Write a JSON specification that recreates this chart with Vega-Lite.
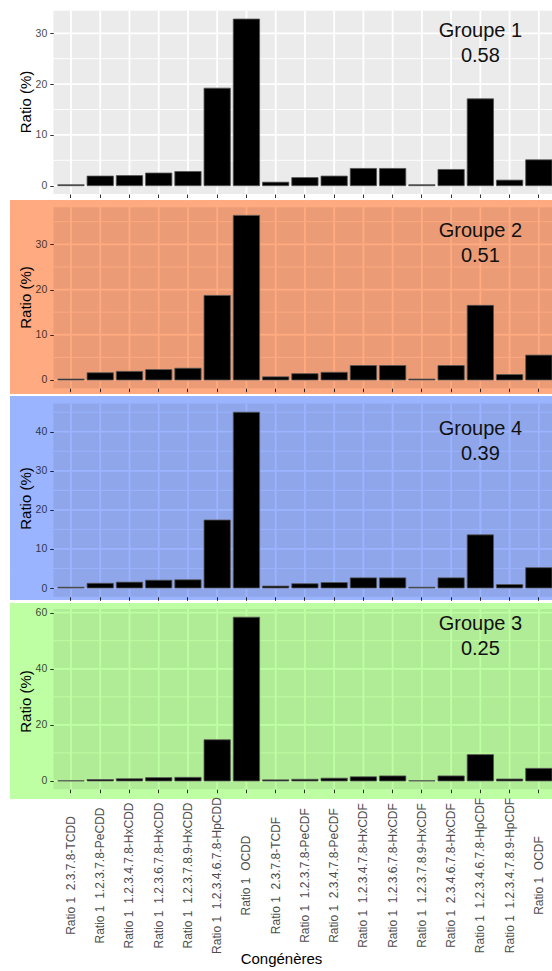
{
  "$schema": "https://vega.github.io/schema/vega-lite/v6.json",
  "background": "white",
  "padding": {"left": 10, "top": 6, "right": 0, "bottom": 0},
  "spacing": 2,
  "config": {
    "font": "Liberation Sans",
    "view": {"stroke": null},
    "axis": {"domain": false, "labelFont": "Liberation Sans", "titleFont": "Liberation Sans", "titleFontWeight": "normal"}
  },
  "datasets": {
    "ratios": [
      {"groupe": "Groupe 1", "congenere": "Ratio 1 2.3.7.8-TCDD", "ratio": 0.2},
      {"groupe": "Groupe 1", "congenere": "Ratio 1 1.2.3.7.8-PeCDD", "ratio": 1.9},
      {"groupe": "Groupe 1", "congenere": "Ratio 1 1.2.3.4.7.8-HxCDD", "ratio": 2.0},
      {"groupe": "Groupe 1", "congenere": "Ratio 1 1.2.3.6.7.8-HxCDD", "ratio": 2.5},
      {"groupe": "Groupe 1", "congenere": "Ratio 1 1.2.3.7.8.9-HxCDD", "ratio": 2.8},
      {"groupe": "Groupe 1", "congenere": "Ratio 1 1.2.3.4.6.7.8-HpCDD", "ratio": 19.2},
      {"groupe": "Groupe 1", "congenere": "Ratio 1 OCDD", "ratio": 32.8},
      {"groupe": "Groupe 1", "congenere": "Ratio 1 2.3.7.8-TCDF", "ratio": 0.7},
      {"groupe": "Groupe 1", "congenere": "Ratio 1 1.2.3.7.8-PeCDF", "ratio": 1.6},
      {"groupe": "Groupe 1", "congenere": "Ratio 1 2.3.4.7.8-PeCDF", "ratio": 1.9},
      {"groupe": "Groupe 1", "congenere": "Ratio 1 1.2.3.4.7.8-HxCDF", "ratio": 3.4},
      {"groupe": "Groupe 1", "congenere": "Ratio 1 1.2.3.6.7.8-HxCDF", "ratio": 3.4},
      {"groupe": "Groupe 1", "congenere": "Ratio 1 1.2.3.7.8.9-HxCDF", "ratio": 0.2},
      {"groupe": "Groupe 1", "congenere": "Ratio 1 2.3.4.6.7.8-HxCDF", "ratio": 3.2},
      {"groupe": "Groupe 1", "congenere": "Ratio 1 1.2.3.4.6.7.8-HpCDF", "ratio": 17.1},
      {"groupe": "Groupe 1", "congenere": "Ratio 1 1.2.3.4.7.8.9-HpCDF", "ratio": 1.1},
      {"groupe": "Groupe 1", "congenere": "Ratio 1 OCDF", "ratio": 5.1},
      {"groupe": "Groupe 2", "congenere": "Ratio 1 2.3.7.8-TCDD", "ratio": 0.2},
      {"groupe": "Groupe 2", "congenere": "Ratio 1 1.2.3.7.8-PeCDD", "ratio": 1.6},
      {"groupe": "Groupe 2", "congenere": "Ratio 1 1.2.3.4.7.8-HxCDD", "ratio": 1.9},
      {"groupe": "Groupe 2", "congenere": "Ratio 1 1.2.3.6.7.8-HxCDD", "ratio": 2.3},
      {"groupe": "Groupe 2", "congenere": "Ratio 1 1.2.3.7.8.9-HxCDD", "ratio": 2.6},
      {"groupe": "Groupe 2", "congenere": "Ratio 1 1.2.3.4.6.7.8-HpCDD", "ratio": 18.7},
      {"groupe": "Groupe 2", "congenere": "Ratio 1 OCDD", "ratio": 36.4},
      {"groupe": "Groupe 2", "congenere": "Ratio 1 2.3.7.8-TCDF", "ratio": 0.7},
      {"groupe": "Groupe 2", "congenere": "Ratio 1 1.2.3.7.8-PeCDF", "ratio": 1.4},
      {"groupe": "Groupe 2", "congenere": "Ratio 1 2.3.4.7.8-PeCDF", "ratio": 1.7},
      {"groupe": "Groupe 2", "congenere": "Ratio 1 1.2.3.4.7.8-HxCDF", "ratio": 3.2},
      {"groupe": "Groupe 2", "congenere": "Ratio 1 1.2.3.6.7.8-HxCDF", "ratio": 3.2},
      {"groupe": "Groupe 2", "congenere": "Ratio 1 1.2.3.7.8.9-HxCDF", "ratio": 0.2},
      {"groupe": "Groupe 2", "congenere": "Ratio 1 2.3.4.6.7.8-HxCDF", "ratio": 3.2},
      {"groupe": "Groupe 2", "congenere": "Ratio 1 1.2.3.4.6.7.8-HpCDF", "ratio": 16.5},
      {"groupe": "Groupe 2", "congenere": "Ratio 1 1.2.3.4.7.8.9-HpCDF", "ratio": 1.2},
      {"groupe": "Groupe 2", "congenere": "Ratio 1 OCDF", "ratio": 5.5},
      {"groupe": "Groupe 4", "congenere": "Ratio 1 2.3.7.8-TCDD", "ratio": 0.2},
      {"groupe": "Groupe 4", "congenere": "Ratio 1 1.2.3.7.8-PeCDD", "ratio": 1.2},
      {"groupe": "Groupe 4", "congenere": "Ratio 1 1.2.3.4.7.8-HxCDD", "ratio": 1.5},
      {"groupe": "Groupe 4", "congenere": "Ratio 1 1.2.3.6.7.8-HxCDD", "ratio": 2.0},
      {"groupe": "Groupe 4", "congenere": "Ratio 1 1.2.3.7.8.9-HxCDD", "ratio": 2.1},
      {"groupe": "Groupe 4", "congenere": "Ratio 1 1.2.3.4.6.7.8-HpCDD", "ratio": 17.4},
      {"groupe": "Groupe 4", "congenere": "Ratio 1 OCDD", "ratio": 45.0},
      {"groupe": "Groupe 4", "congenere": "Ratio 1 2.3.7.8-TCDF", "ratio": 0.5},
      {"groupe": "Groupe 4", "congenere": "Ratio 1 1.2.3.7.8-PeCDF", "ratio": 1.1},
      {"groupe": "Groupe 4", "congenere": "Ratio 1 2.3.4.7.8-PeCDF", "ratio": 1.4},
      {"groupe": "Groupe 4", "congenere": "Ratio 1 1.2.3.4.7.8-HxCDF", "ratio": 2.6},
      {"groupe": "Groupe 4", "congenere": "Ratio 1 1.2.3.6.7.8-HxCDF", "ratio": 2.6},
      {"groupe": "Groupe 4", "congenere": "Ratio 1 1.2.3.7.8.9-HxCDF", "ratio": 0.2},
      {"groupe": "Groupe 4", "congenere": "Ratio 1 2.3.4.6.7.8-HxCDF", "ratio": 2.6},
      {"groupe": "Groupe 4", "congenere": "Ratio 1 1.2.3.4.6.7.8-HpCDF", "ratio": 13.6},
      {"groupe": "Groupe 4", "congenere": "Ratio 1 1.2.3.4.7.8.9-HpCDF", "ratio": 0.9},
      {"groupe": "Groupe 4", "congenere": "Ratio 1 OCDF", "ratio": 5.2},
      {"groupe": "Groupe 3", "congenere": "Ratio 1 2.3.7.8-TCDD", "ratio": 0.1},
      {"groupe": "Groupe 3", "congenere": "Ratio 1 1.2.3.7.8-PeCDD", "ratio": 0.5},
      {"groupe": "Groupe 3", "congenere": "Ratio 1 1.2.3.4.7.8-HxCDD", "ratio": 0.8},
      {"groupe": "Groupe 3", "congenere": "Ratio 1 1.2.3.6.7.8-HxCDD", "ratio": 1.2},
      {"groupe": "Groupe 3", "congenere": "Ratio 1 1.2.3.7.8.9-HxCDD", "ratio": 1.3},
      {"groupe": "Groupe 3", "congenere": "Ratio 1 1.2.3.4.6.7.8-HpCDD", "ratio": 14.7},
      {"groupe": "Groupe 3", "congenere": "Ratio 1 OCDD", "ratio": 58.4},
      {"groupe": "Groupe 3", "congenere": "Ratio 1 2.3.7.8-TCDF", "ratio": 0.4},
      {"groupe": "Groupe 3", "congenere": "Ratio 1 1.2.3.7.8-PeCDF", "ratio": 0.6},
      {"groupe": "Groupe 3", "congenere": "Ratio 1 2.3.4.7.8-PeCDF", "ratio": 1.0},
      {"groupe": "Groupe 3", "congenere": "Ratio 1 1.2.3.4.7.8-HxCDF", "ratio": 1.5},
      {"groupe": "Groupe 3", "congenere": "Ratio 1 1.2.3.6.7.8-HxCDF", "ratio": 1.8},
      {"groupe": "Groupe 3", "congenere": "Ratio 1 1.2.3.7.8.9-HxCDF", "ratio": 0.1},
      {"groupe": "Groupe 3", "congenere": "Ratio 1 2.3.4.6.7.8-HxCDF", "ratio": 1.8},
      {"groupe": "Groupe 3", "congenere": "Ratio 1 1.2.3.4.6.7.8-HpCDF", "ratio": 9.4},
      {"groupe": "Groupe 3", "congenere": "Ratio 1 1.2.3.4.7.8.9-HpCDF", "ratio": 0.7},
      {"groupe": "Groupe 3", "congenere": "Ratio 1 OCDF", "ratio": 4.5}
    ]
  },
  "vconcat": [
    {
      "width": 542,
      "height": 191,
      "view": {"stroke": null},
      "layer": [
        {
          "data": {"values": [{}]},
          "mark": {"type": "rect", "color": "#EBEBEB", "clip": true},
          "encoding": {
            "x": {
              "datum": "Ratio 1 2.3.7.8-TCDD", "type": "nominal", "bandPosition": -0.1667,
              "scale": {"domain": ["Ratio 1 2.3.7.8-TCDD", "Ratio 1 1.2.3.7.8-PeCDD", "Ratio 1 1.2.3.4.7.8-HxCDD", "Ratio 1 1.2.3.6.7.8-HxCDD", "Ratio 1 1.2.3.7.8.9-HxCDD", "Ratio 1 1.2.3.4.6.7.8-HpCDD", "Ratio 1 OCDD", "Ratio 1 2.3.7.8-TCDF", "Ratio 1 1.2.3.7.8-PeCDF", "Ratio 1 2.3.4.7.8-PeCDF", "Ratio 1 1.2.3.4.7.8-HxCDF", "Ratio 1 1.2.3.6.7.8-HxCDF", "Ratio 1 1.2.3.7.8.9-HxCDF", "Ratio 1 2.3.4.6.7.8-HxCDF", "Ratio 1 1.2.3.4.6.7.8-HpCDF", "Ratio 1 1.2.3.4.7.8.9-HpCDF", "Ratio 1 OCDF"], "paddingInner": 0.1, "paddingOuter": 0.818, "align": 1},
              "axis": {"labels": false, "title": null, "ticks": true, "tickSize": 3.5, "tickColor": "#333333", "grid": false, "domain": false, "offset": -3, "zindex": 1}
            },
            "x2": {"datum": "Ratio 1 OCDF", "bandPosition": 1.1667},
            "y": {
              "datum": -1.64, "type": "quantitative",
              "scale": {"domain": [-2.22, 35.37], "nice": false, "zero": false},
              "axis": {"values": [0, 10, 20, 30], "title": "Ratio (%)", "offset": -43.3, "grid": false, "domain": false, "tickSize": 3.5, "tickColor": "#333333", "labelColor": "#4D4D4D", "labelFontSize": 10.5, "labelPadding": 3, "titleFontSize": 15, "titleColor": "#000000", "titlePadding": 2, "zindex": 1}
            },
            "y2": {"datum": 34.44}
          }
        },
        {
          "data": {"values": [{"v": 5}, {"v": 15}, {"v": 25}]},
          "mark": {"type": "rule", "color": "#FFFFFF", "strokeWidth": 0.9, "clip": true},
          "encoding": {"y": {"field": "v", "type": "quantitative"}}
        },
        {
          "data": {"values": [{"v": 0}, {"v": 10}, {"v": 20}, {"v": 30}]},
          "mark": {"type": "rule", "color": "#FFFFFF", "strokeWidth": 1.8, "clip": true},
          "encoding": {"y": {"field": "v", "type": "quantitative"}}
        },
        {
          "data": {"name": "ratios"},
          "transform": [{"filter": "datum.groupe === 'Groupe 1'"}],
          "mark": {"type": "rule", "color": "#FFFFFF", "strokeWidth": 1.8, "clip": true},
          "encoding": {"x": {"field": "congenere", "type": "nominal"}, "y": {"datum": -1.64, "type": "quantitative"}, "y2": {"datum": 34.44}}
        },
        {
          "data": {"name": "ratios"},
          "transform": [{"filter": "datum.groupe === 'Groupe 1'"}],
          "mark": {"type": "bar", "color": "#000000", "stroke": "#555555", "strokeWidth": 0.8, "clip": true},
          "encoding": {"x": {"field": "congenere", "type": "nominal"}, "y": {"field": "ratio", "type": "quantitative"}, "y2": {"datum": 0}}
        },
        {
          "data": {"values": [{}]},
          "mark": {"type": "text", "font": "Liberation Sans", "fontSize": 20, "lineHeight": 25, "color": "#111111", "align": "center", "baseline": "alphabetic"},
          "encoding": {"x": {"datum": "Ratio 1 1.2.3.4.6.7.8-HpCDF", "type": "nominal"}, "y": {"datum": 29.2, "type": "quantitative"}, "text": {"value": ["Groupe 1", "0.58"]}}
        }
      ]
    },
    {
      "width": 542,
      "height": 194,
      "view": {"stroke": null, "fill": "#FFAA80"},
      "layer": [
        {
          "data": {"values": [{}]},
          "mark": {"type": "rect", "color": "#EB9C76", "clip": true},
          "encoding": {
            "x": {
              "datum": "Ratio 1 2.3.7.8-TCDD", "type": "nominal", "bandPosition": -0.1667,
              "scale": {"domain": ["Ratio 1 2.3.7.8-TCDD", "Ratio 1 1.2.3.7.8-PeCDD", "Ratio 1 1.2.3.4.7.8-HxCDD", "Ratio 1 1.2.3.6.7.8-HxCDD", "Ratio 1 1.2.3.7.8.9-HxCDD", "Ratio 1 1.2.3.4.6.7.8-HpCDD", "Ratio 1 OCDD", "Ratio 1 2.3.7.8-TCDF", "Ratio 1 1.2.3.7.8-PeCDF", "Ratio 1 2.3.4.7.8-PeCDF", "Ratio 1 1.2.3.4.7.8-HxCDF", "Ratio 1 1.2.3.6.7.8-HxCDF", "Ratio 1 1.2.3.7.8.9-HxCDF", "Ratio 1 2.3.4.6.7.8-HxCDF", "Ratio 1 1.2.3.4.6.7.8-HpCDF", "Ratio 1 1.2.3.4.7.8.9-HpCDF", "Ratio 1 OCDF"], "paddingInner": 0.1, "paddingOuter": 0.818, "align": 1},
              "axis": {"labels": false, "title": null, "ticks": true, "tickSize": 3.5, "tickColor": "#33221A", "grid": false, "domain": false, "offset": -5.8, "zindex": 1}
            },
            "x2": {"datum": "Ratio 1 OCDF", "bandPosition": 1.1667},
            "y": {
              "datum": -1.82, "type": "quantitative",
              "scale": {"domain": [-3.10, 39.80], "nice": false, "zero": false},
              "axis": {"values": [0, 10, 20, 30], "title": "Ratio (%)", "offset": -43.3, "grid": false, "domain": false, "tickSize": 3.5, "tickColor": "#33221A", "labelColor": "#4D3327", "labelFontSize": 10.5, "labelPadding": 3, "titleFontSize": 15, "titleColor": "#000000", "titlePadding": 2, "zindex": 1}
            },
            "y2": {"datum": 38.22}
          }
        },
        {
          "data": {"values": [{"v": 5}, {"v": 15}, {"v": 25}, {"v": 35}]},
          "mark": {"type": "rule", "color": "#FFAA80", "strokeWidth": 0.9, "clip": true},
          "encoding": {"y": {"field": "v", "type": "quantitative"}}
        },
        {
          "data": {"values": [{"v": 0}, {"v": 10}, {"v": 20}, {"v": 30}]},
          "mark": {"type": "rule", "color": "#FFAA80", "strokeWidth": 1.8, "clip": true},
          "encoding": {"y": {"field": "v", "type": "quantitative"}}
        },
        {
          "data": {"name": "ratios"},
          "transform": [{"filter": "datum.groupe === 'Groupe 2'"}],
          "mark": {"type": "rule", "color": "#FFAA80", "strokeWidth": 1.8, "clip": true},
          "encoding": {"x": {"field": "congenere", "type": "nominal"}, "y": {"datum": -1.82, "type": "quantitative"}, "y2": {"datum": 38.22}}
        },
        {
          "data": {"name": "ratios"},
          "transform": [{"filter": "datum.groupe === 'Groupe 2'"}],
          "mark": {"type": "bar", "color": "#000000", "stroke": "#555555", "strokeWidth": 0.8, "clip": true},
          "encoding": {"x": {"field": "congenere", "type": "nominal"}, "y": {"field": "ratio", "type": "quantitative"}, "y2": {"datum": 0}}
        },
        {
          "data": {"values": [{}]},
          "mark": {"type": "text", "font": "Liberation Sans", "fontSize": 20, "lineHeight": 25, "color": "#111111", "align": "center", "baseline": "alphabetic"},
          "encoding": {"x": {"datum": "Ratio 1 1.2.3.4.6.7.8-HpCDF", "type": "nominal"}, "y": {"datum": 31.7, "type": "quantitative"}, "text": {"value": ["Groupe 2", "0.51"]}}
        }
      ]
    },
    {
      "width": 542,
      "height": 204,
      "view": {"stroke": null, "fill": "#9BB4FF"},
      "layer": [
        {
          "data": {"values": [{}]},
          "mark": {"type": "rect", "color": "#8FA6EB", "clip": true},
          "encoding": {
            "x": {
              "datum": "Ratio 1 2.3.7.8-TCDD", "type": "nominal", "bandPosition": -0.1667,
              "scale": {"domain": ["Ratio 1 2.3.7.8-TCDD", "Ratio 1 1.2.3.7.8-PeCDD", "Ratio 1 1.2.3.4.7.8-HxCDD", "Ratio 1 1.2.3.6.7.8-HxCDD", "Ratio 1 1.2.3.7.8.9-HxCDD", "Ratio 1 1.2.3.4.6.7.8-HpCDD", "Ratio 1 OCDD", "Ratio 1 2.3.7.8-TCDF", "Ratio 1 1.2.3.7.8-PeCDF", "Ratio 1 2.3.4.7.8-PeCDF", "Ratio 1 1.2.3.4.7.8-HxCDF", "Ratio 1 1.2.3.6.7.8-HxCDF", "Ratio 1 1.2.3.7.8.9-HxCDF", "Ratio 1 2.3.4.6.7.8-HxCDF", "Ratio 1 1.2.3.4.6.7.8-HpCDF", "Ratio 1 1.2.3.4.7.8.9-HpCDF", "Ratio 1 OCDF"], "paddingInner": 0.1, "paddingOuter": 0.818, "align": 1},
              "axis": {"labels": false, "title": null, "ticks": true, "tickSize": 3.5, "tickColor": "#1F2433", "grid": false, "domain": false, "offset": -3.2, "zindex": 1}
            },
            "x2": {"datum": "Ratio 1 OCDF", "bandPosition": 1.1667},
            "y": {
              "datum": -2.25, "type": "quantitative",
              "scale": {"domain": [-3.07, 49.14], "nice": false, "zero": false},
              "axis": {"values": [0, 10, 20, 30, 40], "title": "Ratio (%)", "offset": -43.3, "grid": false, "domain": false, "tickSize": 3.5, "tickColor": "#1F2433", "labelColor": "#2F364D", "labelFontSize": 10.5, "labelPadding": 3, "titleFontSize": 15, "titleColor": "#000000", "titlePadding": 2, "zindex": 1}
            },
            "y2": {"datum": 47.25}
          }
        },
        {
          "data": {"values": [{"v": 5}, {"v": 15}, {"v": 25}, {"v": 35}, {"v": 45}]},
          "mark": {"type": "rule", "color": "#9BB4FF", "strokeWidth": 0.9, "clip": true},
          "encoding": {"y": {"field": "v", "type": "quantitative"}}
        },
        {
          "data": {"values": [{"v": 0}, {"v": 10}, {"v": 20}, {"v": 30}, {"v": 40}]},
          "mark": {"type": "rule", "color": "#9BB4FF", "strokeWidth": 1.8, "clip": true},
          "encoding": {"y": {"field": "v", "type": "quantitative"}}
        },
        {
          "data": {"name": "ratios"},
          "transform": [{"filter": "datum.groupe === 'Groupe 4'"}],
          "mark": {"type": "rule", "color": "#9BB4FF", "strokeWidth": 1.8, "clip": true},
          "encoding": {"x": {"field": "congenere", "type": "nominal"}, "y": {"datum": -2.25, "type": "quantitative"}, "y2": {"datum": 47.25}}
        },
        {
          "data": {"name": "ratios"},
          "transform": [{"filter": "datum.groupe === 'Groupe 4'"}],
          "mark": {"type": "bar", "color": "#000000", "stroke": "#555555", "strokeWidth": 0.8, "clip": true},
          "encoding": {"x": {"field": "congenere", "type": "nominal"}, "y": {"field": "ratio", "type": "quantitative"}, "y2": {"datum": 0}}
        },
        {
          "data": {"values": [{}]},
          "mark": {"type": "text", "font": "Liberation Sans", "fontSize": 20, "lineHeight": 25, "color": "#111111", "align": "center", "baseline": "alphabetic"},
          "encoding": {"x": {"datum": "Ratio 1 1.2.3.4.6.7.8-HpCDF", "type": "nominal"}, "y": {"datum": 39.1, "type": "quantitative"}, "text": {"value": ["Groupe 4", "0.39"]}}
        }
      ]
    },
    {
      "width": 542,
      "height": 196,
      "view": {"stroke": null, "fill": "#BFFFA3"},
      "layer": [
        {
          "data": {"values": [{}]},
          "mark": {"type": "rect", "color": "#B0EB96", "clip": true},
          "encoding": {
            "x": {
              "datum": "Ratio 1 2.3.7.8-TCDD", "type": "nominal", "bandPosition": -0.1667,
              "scale": {"domain": ["Ratio 1 2.3.7.8-TCDD", "Ratio 1 1.2.3.7.8-PeCDD", "Ratio 1 1.2.3.4.7.8-HxCDD", "Ratio 1 1.2.3.6.7.8-HxCDD", "Ratio 1 1.2.3.7.8.9-HxCDD", "Ratio 1 1.2.3.4.6.7.8-HpCDD", "Ratio 1 OCDD", "Ratio 1 2.3.7.8-TCDF", "Ratio 1 1.2.3.7.8-PeCDF", "Ratio 1 2.3.4.7.8-PeCDF", "Ratio 1 1.2.3.4.7.8-HxCDF", "Ratio 1 1.2.3.6.7.8-HxCDF", "Ratio 1 1.2.3.7.8.9-HxCDF", "Ratio 1 2.3.4.6.7.8-HxCDF", "Ratio 1 1.2.3.4.6.7.8-HpCDF", "Ratio 1 1.2.3.4.7.8.9-HpCDF", "Ratio 1 OCDF"], "paddingInner": 0.1, "paddingOuter": 0.818, "align": 1},
              "axis": {"labels": true, "labelExpr": "replace(datum.label, 'Ratio 1 ', 'Ratio 1\u00a0 ')", "labelAngle": 270, "labelAlign": "center", "labelBaseline": "middle", "labelPadding": 82.3, "labelFontSize": 12, "labelColor": "#4D4D4D", "labelLimit": 400, "labelOverlap": false, "title": "Congénères", "titleFontSize": 15, "titleColor": "#000000", "titlePadding": -2, "ticks": true, "tickSize": 3.5, "tickColor": "#263321", "grid": false, "domain": false, "offset": -9.8, "zindex": 1}
            },
            "x2": {"datum": "Ratio 1 OCDF", "bandPosition": 1.1667},
            "y": {
              "datum": -2.92, "type": "quantitative",
              "scale": {"domain": [-6.42, 63.46], "nice": false, "zero": false},
              "axis": {"values": [0, 20, 40, 60], "title": "Ratio (%)", "offset": -43.3, "grid": false, "domain": false, "tickSize": 3.5, "tickColor": "#263321", "labelColor": "#3A4D31", "labelFontSize": 10.5, "labelPadding": 3, "titleFontSize": 15, "titleColor": "#000000", "titlePadding": 2, "zindex": 1}
            },
            "y2": {"datum": 61.32}
          }
        },
        {
          "data": {"values": [{"v": 10}, {"v": 30}, {"v": 50}]},
          "mark": {"type": "rule", "color": "#BFFFA3", "strokeWidth": 0.9, "clip": true},
          "encoding": {"y": {"field": "v", "type": "quantitative"}}
        },
        {
          "data": {"values": [{"v": 0}, {"v": 20}, {"v": 40}, {"v": 60}]},
          "mark": {"type": "rule", "color": "#BFFFA3", "strokeWidth": 1.8, "clip": true},
          "encoding": {"y": {"field": "v", "type": "quantitative"}}
        },
        {
          "data": {"name": "ratios"},
          "transform": [{"filter": "datum.groupe === 'Groupe 3'"}],
          "mark": {"type": "rule", "color": "#BFFFA3", "strokeWidth": 1.8, "clip": true},
          "encoding": {"x": {"field": "congenere", "type": "nominal"}, "y": {"datum": -2.92, "type": "quantitative"}, "y2": {"datum": 61.32}}
        },
        {
          "data": {"name": "ratios"},
          "transform": [{"filter": "datum.groupe === 'Groupe 3'"}],
          "mark": {"type": "bar", "color": "#000000", "stroke": "#555555", "strokeWidth": 0.8, "clip": true},
          "encoding": {"x": {"field": "congenere", "type": "nominal"}, "y": {"field": "ratio", "type": "quantitative"}, "y2": {"datum": 0}}
        },
        {
          "data": {"values": [{}]},
          "mark": {"type": "text", "font": "Liberation Sans", "fontSize": 20, "lineHeight": 25, "color": "#111111", "align": "center", "baseline": "alphabetic"},
          "encoding": {"x": {"datum": "Ratio 1 1.2.3.4.6.7.8-HpCDF", "type": "nominal"}, "y": {"datum": 53.7, "type": "quantitative"}, "text": {"value": ["Groupe 3", "0.25"]}}
        }
      ]
    }
  ]
}
